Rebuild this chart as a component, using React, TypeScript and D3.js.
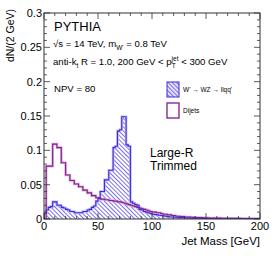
import React from 'react';
import * as d3 from 'd3';

// histogram binning (GeV)
const BIN_WIDTH = 2;

// dN/(2 GeV), one value per 2 GeV bin from 0 to 200 GeV
const dijetValues = [
  0, 0.077, 0.077, 0.077, 0.109, 0.109, 0.104, 0.104, 0.082, 0.082,
  0.064, 0.064, 0.056, 0.056, 0.051, 0.051, 0.047, 0.047, 0.042, 0.042,
  0.038, 0.038, 0.034, 0.034, 0.031, 0.031, 0.029, 0.029, 0.028, 0.028,
  0.027, 0.027, 0.026, 0.026, 0.025, 0.025, 0.024, 0.023, 0.022, 0.021,
  0.02, 0.019, 0.018, 0.017, 0.016, 0.015, 0.014, 0.013, 0.012, 0.011,
  0.01, 0.01, 0.009, 0.009, 0.008, 0.007, 0.007, 0.006, 0.006, 0.005,
  0.005, 0.004, 0.004, 0.0035, 0.0035, 0.003, 0.003, 0.0028, 0.0026, 0.0024,
  0.0022, 0.002, 0.002, 0.0018, 0.0018, 0.0016, 0.0015, 0.0015, 0.0014, 0.0014,
  0.0013, 0.0013, 0.0012, 0.0012, 0.0011, 0.0011, 0.001, 0.001, 0.0009, 0.0009,
  0.0009, 0.0008, 0.0008, 0.0008, 0.0007, 0.0007, 0.0007, 0.0006, 0.0006, 0.0006,
];

const signalValues = [
  0.008, 0.013, 0.017, 0.018, 0.025, 0.025, 0.02, 0.02, 0.017, 0.016,
  0.014, 0.013, 0.011, 0.011, 0.009, 0.009, 0.009, 0.009, 0.011, 0.011,
  0.013, 0.014, 0.017, 0.019, 0.026, 0.03, 0.04, 0.04, 0.057, 0.057,
  0.071, 0.071, 0.104, 0.106, 0.128, 0.13, 0.149, 0.149, 0.108, 0.106,
  0.025, 0.023, 0.021, 0.02, 0.014, 0.013, 0.011, 0.01, 0.009, 0.008,
  0.007, 0.0065, 0.006, 0.0055, 0.005, 0.0045, 0.004, 0.0035, 0.003, 0.003,
  0.0025, 0.0025, 0.002, 0.002, 0.0018, 0.0016, 0.0015, 0.0014, 0.0013, 0.0012,
  0.0011, 0.001, 0.001, 0.0009, 0.0009, 0.0008, 0.0008, 0.0007, 0.0007, 0.0007,
  0.0006, 0.0006, 0.0006, 0.0005, 0.0005, 0.0005, 0.0005, 0.0004, 0.0004, 0.0004,
  0.0004, 0.0003, 0.0003, 0.0003, 0.0003, 0.0003, 0.0002, 0.0002, 0.0002, 0.0002,
];

const xTicks = [0, 50, 100, 150, 200];
const yTicks = [0, 0.05, 0.1, 0.15, 0.2, 0.25, 0.3];
const yTickLabels = ['0', '0.05', '0.1', '0.15', '0.2', '0.25', '0.3'];

const WIDTH = 274;
const HEIGHT = 261;
const margin = { top: 13, right: 14, bottom: 42, left: 44 };

const FONT = '"Liberation Sans", Arial, Helvetica, sans-serif';
const SIGNAL_COLOR = '#3b2be0';
const SIGNAL_HATCH = '#6e5fe8';
const SIGNAL_BAND = '#c4bcf2';
const DIJET_COLOR = '#82208a';
const DIJET_BAND = '#dcaede';
const FRAME = '#333';

const App: React.FC = () => {
  const x = d3.scaleLinear().domain([0, 200]).range([margin.left, WIDTH - margin.right]);
  const y = d3.scaleLinear().domain([0, 0.3]).range([HEIGHT - margin.bottom, margin.top]);

  // turn bin contents into a step outline
  const stepPoints = (values: number[]): [number, number][] => {
    const pts: [number, number][] = [[x(0), y(0)]];
    values.forEach((v, i) => {
      pts.push([x(i * BIN_WIDTH), y(v)]);
      pts.push([x((i + 1) * BIN_WIDTH), y(v)]);
    });
    pts.push([x(values.length * BIN_WIDTH), y(0)]);
    return pts;
  };

  const line = d3.line<[number, number]>();
  const signalPath = line(stepPoints(signalValues)) || '';
  const dijetPath = line(stepPoints(dijetValues)) || '';

  const [x0, x1] = x.range();
  const [y0, y1] = y.range();

  const xMinor = d3.range(0, 201, 10);
  const yMinor = d3.range(0, 0.3001, 0.01);

  return (
    <svg
      width={WIDTH}
      height={HEIGHT}
      style={{ position: 'absolute', left: 0, top: 0, background: '#fff' }}
      fontFamily={FONT}
    >
      <defs>
        <pattern id="hatch" width="3" height="3" patternUnits="userSpaceOnUse" patternTransform="rotate(-45)">
          <line x1="0.5" y1="0" x2="0.5" y2="3" stroke={SIGNAL_HATCH} strokeWidth="0.9" />
        </pattern>
        <clipPath id="plotClip">
          <rect x={x0} y={y1} width={x1 - x0} height={y0 - y1} />
        </clipPath>
      </defs>

      <rect width={WIDTH} height={HEIGHT} fill="#fff" />

      {/* histograms */}
      <g clipPath="url(#plotClip)">
        <path d={signalPath} fill="url(#hatch)" stroke="none" />
        <path d={signalPath} fill="none" stroke={SIGNAL_BAND} strokeWidth={2.6} />
        <path d={dijetPath} fill="none" stroke={DIJET_BAND} strokeWidth={2.6} />
        <path d={dijetPath} fill="none" stroke={DIJET_COLOR} strokeWidth={1.1} />
        <path d={signalPath} fill="none" stroke={SIGNAL_COLOR} strokeWidth={1.1} />
      </g>

      {/* frame */}
      <rect x={x0} y={y1} width={x1 - x0} height={y0 - y1} fill="none" stroke={FRAME} strokeWidth={1} />

      {/* x ticks, bottom and top */}
      {xMinor.map((t) => {
        const len = t % 50 === 0 ? 6 : 3;
        return (
          <g key={'xt' + t} stroke={FRAME} strokeWidth={0.8}>
            <line x1={x(t)} x2={x(t)} y1={y0} y2={y0 - len} />
            <line x1={x(t)} x2={x(t)} y1={y1} y2={y1 + len} />
          </g>
        );
      })}
      {/* y ticks, left and right */}
      {yMinor.map((t, i) => {
        const len = i % 5 === 0 ? 6 : 3;
        return (
          <g key={'yt' + i} stroke={FRAME} strokeWidth={0.8}>
            <line x1={x0} x2={x0 + len} y1={y(t)} y2={y(t)} />
            <line x1={x1} x2={x1 - len} y1={y(t)} y2={y(t)} />
          </g>
        );
      })}

      {/* tick labels */}
      {xTicks.map((t) => (
        <text key={'xl' + t} x={x(t)} y={230} fontSize={11} textAnchor="middle" fill="#000">
          {t}
        </text>
      ))}
      {yTicks.map((t, i) => (
        <text key={'yl' + t} x={x0 - 2} y={y(t) + 4} fontSize={11} textAnchor="end" fill="#000">
          {yTickLabels[i]}
        </text>
      ))}

      {/* axis titles */}
      <text x={x1} y={245} fontSize={11.5} textAnchor="end" fill="#000">
        Jet Mass [GeV]
      </text>
      <text
        transform={`translate(14, ${y1 - 4}) rotate(-90)`}
        fontSize={10.5}
        textAnchor="end"
        fill="#000"
      >
        dN/(2 GeV)
      </text>

      {/* labels */}
      <text x={54} y={31} fontSize={13} fill="#000">PYTHIA</text>
      <text x={53} y={47} fontSize={9.6} fill="#000">
        √s = 14 TeV, m
        <tspan fontSize={6.5} dy={2.5}>W'</tspan>
        <tspan dy={-2.5}> = 0.8 TeV</tspan>
      </text>
      <text x={53} y={65} fontSize={9.6} fill="#000">
        anti-k
        <tspan fontSize={6.5} dy={2.5}>t</tspan>
        <tspan dy={-2.5}> R = 1.0, 200 GeV &lt; p</tspan>
        <tspan fontSize={6.5} dy={2.5}>T</tspan>
        <tspan fontSize={6.5} dx={-4} dy={-7}>jet</tspan>
        <tspan dy={4.5}> &lt; 300 GeV</tspan>
      </text>
      <text x={54} y={92} fontSize={9.6} fill="#000">NPV = 80</text>

      {/* legend */}
      <rect x={167} y={82} width={12} height={15} fill="#e6e1fb" />
      <rect x={167} y={82} width={12} height={15} fill="url(#hatch)" stroke={SIGNAL_COLOR} strokeWidth={1} />
      <text x={183} y={92} fontSize={6.5} fill="#000">W' → WZ → llqq'</text>
      <rect x={167} y={103} width={12} height={15} fill="#fff" stroke={DIJET_BAND} strokeWidth={2} />
      <rect x={167} y={103} width={12} height={15} fill="none" stroke={DIJET_COLOR} strokeWidth={1} />
      <text x={183} y={113} fontSize={6.5} fill="#000">Dijets</text>

      <text x={150} y={157} fontSize={12} fill="#000">Large-R</text>
      <text x={150} y={170} fontSize={12} fill="#000">Trimmed</text>
    </svg>
  );
};

export default App;
